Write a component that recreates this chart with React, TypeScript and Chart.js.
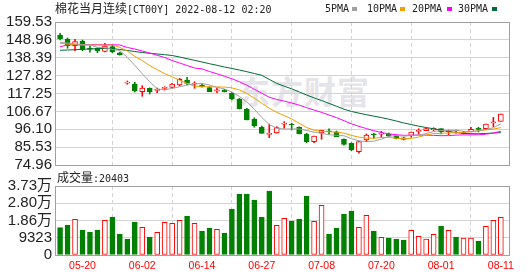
import React, { useEffect, useRef } from 'react';
import { Chart, registerables } from 'chart.js';

Chart.register(...registerables);

// ---------------- data ----------------
const tickIdx = [3, 11, 19, 27, 35, 43, 51, 59];
const dateLabels = ['05-20', '06-02', '06-14', '06-27', '07-08', '07-20', '08-01', '08-11'];

const priceTicks = [74.96, 85.53, 96.1, 106.67, 117.25, 127.82, 138.39, 148.96, 159.53];
const priceLabels = ['74.96', '85.53', '96.10', '106.67', '117.25', '127.82', '138.39', '148.96', '159.53'];

const volTicks = [0, 9323, 18646, 27969, 37292];
const volLabels = ['0', '9323', '1.86万', '2.80万', '3.73万'];

const opens = [
  151.66, 149.48, 145.51, 148.29, 143.6, 143.98, 142.2, 144.92, 141.37, 123.4,
  122.86, 118.31, 120.32, 119.1, 120.3, 120.91, 122.27, 125.23, 122.8, 122.27,
  120.68, 118.85, 119.31, 117.36, 113.99, 108.08, 101.99, 97.26, 93.05, 93.88,
  99.15, 98.66, 97.26, 93.29, 88.74, 93.88, 94.7, 94.65, 90.16, 87.79,
  82.83, 89.74, 92.75, 93.25, 93.29, 92.29, 90.16, 92.52, 94.85, 95.24,
  95.66, 96.43, 94.45, 95.05, 94.48, 94.48, 96.1, 96.43, 99.95, 100.8,
];
const highs = [
  152.85, 150.07, 149.3, 148.88, 145.34, 144.33, 146.93, 145.93, 141.79, 124.64,
  123.87, 121.86, 120.6, 120.5, 121.27, 123.28, 126.23, 126.83, 124.22, 122.86,
  121.27, 120.32, 119.73, 117.95, 114.41, 108.5, 102.93, 98.02, 99.21, 97.61,
  100.57, 99.62, 97.61, 93.71, 92.11, 95.48, 96.43, 95.07, 90.51, 88.15,
  89.15, 93.29, 93.71, 94.89, 93.88, 92.7, 91.34, 94.48, 96.43, 96.84,
  97.02, 96.43, 95.66, 95.66, 94.89, 97.26, 97.26, 99.21, 103.17, 105.12,
];
const lows = [
  148.88, 143.98, 142.38, 142.56, 141.61, 141.37, 141.79, 141.37, 139.84, 122.69,
  118.13, 115.59, 116.95, 117.72, 119.31, 120.32, 121.68, 122.27, 120.32, 120.91,
  118.31, 117.72, 118.13, 113.4, 108.08, 101.57, 97.26, 93.71, 91.1, 93.71,
  96.66, 95.66, 93.29, 88.15, 88.15, 90.16, 93.12, 91.7, 86.61, 83.42,
  81.88, 88.74, 90.75, 91.34, 91.7, 90.34, 89.74, 91.34, 93.29, 95.24,
  95.24, 93.29, 92.88, 93.71, 93.29, 94.48, 94.48, 96.07, 97.61, 100.8,
];
const closes = [
  149.65, 145.51, 147.88, 143.38, 143.5, 142.38, 145.34, 141.79, 140.19, 123.45,
  118.72, 120.5, 118.31, 119.14, 120.32, 122.86, 125.64, 123.28, 122.86, 121.27,
  118.31, 118.9, 118.31, 113.99, 108.08, 101.57, 98.02, 93.71, 93.12, 97.02,
  99.21, 98.62, 93.29, 88.74, 92.11, 95.48, 94.65, 91.7, 87.2, 83.83,
  88.74, 92.7, 92.7, 93.29, 92.29, 90.75, 91.1, 94.48, 94.89, 96.43,
  96.66, 94.48, 94.48, 95.07, 93.71, 96.07, 96.07, 99.21, 99.98, 105.12,
];

const ma5 = [
  147.5, 147.1, 146.6, 146.2, 145.98, 144.53, 144.5, 143.28, 142.64, 138.63,
  133.9, 128.93, 124.24, 120.03, 119.4, 120.23, 121.25, 122.25, 122.99, 123.18,
  122.27, 120.92, 119.93, 118.16, 115.52, 112.17, 107.99, 103.07, 98.9, 96.69,
  96.22, 96.34, 96.25, 95.38, 94.39, 93.65, 92.85, 92.54, 92.23, 90.57,
  89.22, 88.83, 89.03, 90.25, 91.94, 92.35, 92.03, 92.38, 92.7, 93.53,
  94.71, 95.39, 95.39, 95.42, 94.88, 94.76, 95.08, 96.03, 97.01, 99.29,
];
const ma10 = [
  146.9, 146.5, 146.2, 145.9, 145.9, 145.9, 145.9, 145.9, 144.5, 142.31,
  139.22, 136.72, 133.76, 131.34, 129.02, 127.07, 125.09, 123.25, 121.51, 121.29,
  121.25, 121.09, 121.09, 120.58, 119.35, 117.22, 114.46, 111.5, 108.53, 106.11,
  104.2, 102.17, 99.66, 97.14, 95.54, 94.94, 94.6, 94.4, 93.81, 92.48,
  91.44, 90.84, 90.79, 91.24, 91.26, 90.79, 90.43, 90.71, 91.48, 92.74,
  93.53, 93.71, 93.89, 94.06, 94.21, 94.74, 95.24, 95.71, 96.22, 97.09,
];
const ma20 = [
  144.92, 145.93, 146.1, 146.1, 146.1, 146.1, 146.1, 146.1, 145.93, 144.45,
  143.56, 142.38, 141.2, 139.84, 138.53, 136.76, 135.28, 133.8, 132.33, 131.8,
  130.24, 128.91, 127.43, 125.96, 124.19, 122.15, 119.78, 117.38, 115.02, 113.7,
  112.73, 111.63, 110.38, 108.86, 107.45, 106.08, 104.53, 102.95, 101.17, 99.3,
  97.82, 96.51, 95.23, 94.19, 93.4, 92.87, 92.52, 92.56, 92.65, 92.61,
  92.49, 92.28, 92.34, 92.65, 92.74, 92.77, 92.84, 93.21, 93.85, 94.92,
];
const ma30 = [
  142.79, 142.97, 143.15, 143.38, 143.56, 143.74, 143.98, 143.86, 143.27, 142.68,
  142.08, 141.49, 141.02, 140.6, 140.19, 139.72, 138.83, 137.83, 136.88, 135.87,
  134.86, 133.92, 132.92, 132.03, 131.14, 130.14, 129.07, 128.01, 125.58, 123.24,
  121.56, 119.99, 118.17, 116.35, 114.64, 113.08, 111.38, 109.72, 107.95, 106.63,
  105.63, 104.7, 103.85, 102.99, 102.05, 100.98, 99.83, 98.87, 97.94, 97.11,
  96.39, 95.57, 94.78, 94.15, 93.67, 93.49, 93.42, 93.61, 93.84, 94.1,
];

const volumes = [
  14772, 16215, 19279, 13513, 12432, 13513, 18739, 20539, 11351, 8648,
  17837, 14955, 9729, 12253, 17658, 17118, 18739, 21080, 17118, 12972,
  14594, 13874, 11891, 24863, 32971, 32971, 29728, 20539, 34592, 16037,
  19820, 18377, 19458, 31890, 18199, 26847, 11351, 14594, 22161, 23782,
  14955, 21442, 12972, 9551, 9189, 8648, 8108, 13334, 10091, 8648,
  11172, 15675, 13334, 9729, 9189, 9189, 7567, 15496, 18739, 20403,
];
// r = rising (hollow red), g = falling (solid green)
const volColor = [
  'g', 'g', 'r', 'g', 'g', 'g', 'r', 'g', 'g', 'g',
  'g', 'r', 'g', 'r', 'r', 'r', 'r', 'g', 'r', 'g',
  'g', 'r', 'g', 'g', 'g', 'g', 'g', 'g', 'g', 'r',
  'r', 'g', 'g', 'g', 'r', 'r', 'g', 'g', 'g', 'g',
  'r', 'r', 'g', 'r', 'g', 'g', 'g', 'r', 'r', 'r',
  'r', 'g', 'r', 'g', 'r', 'r', 'g', 'r', 'r', 'r',
];

// ---------------- styles ----------------
const RED = '#ff0000';
const GREEN = '#008000';
const C_MA5 = '#a0a0a0';
const C_MA10 = '#f0a000';
const C_MA20 = '#ff00ff';
const C_MA30 = '#006b35';
const GRID = '#d4d4d4';
const FRAME = '#a0a0a0';
const AXIS_FONT = "'Liberation Sans Narrow', 'Liberation Sans', 'Noto Sans CJK SC', sans-serif";
const X_MIN = -0.68;
const X_MAX = 60.09;

const framePlugin = {
  id: 'frame',
  afterDraw(chart: any) {
    const { ctx, chartArea: a } = chart;
    ctx.save();
    ctx.strokeStyle = FRAME;
    ctx.lineWidth = 1;
    ctx.strokeRect(Math.round(a.left) + 0.5, Math.round(a.top) + 0.5, Math.round(a.right - a.left), Math.round(a.bottom - a.top));
    ctx.restore();
  },
};

function xScale(showLabels: boolean) {
  return {
    type: 'linear' as const,
    min: X_MIN,
    max: X_MAX,
    offset: false,
    afterBuildTicks: (s: any) => {
      s.ticks = tickIdx.map((v) => ({ value: v }));
    },
    afterFit: (s: any) => {
      s.height = showLabels ? 21 : 0;
    },
    ticks: {
      display: showLabels,
      autoSkip: false,
      maxRotation: 0,
      padding: 5,
      color: RED,
      font: { family: "'Liberation Sans', sans-serif", size: 10.5 },
      callback: (_v: any, i: number) => dateLabels[i],
    },
    grid: { color: GRID, drawTicks: false, lineWidth: 1 },
    border: { display: false, dash: [4, 3] },
  };
}

function yScale(min: number, max: number, ticks: number[], labels: string[]) {
  return {
    type: 'linear' as const,
    min,
    max,
    afterBuildTicks: (s: any) => {
      s.ticks = ticks.map((v) => ({ value: v }));
    },
    afterFit: (s: any) => {
      s.width = 55;
    },
    ticks: {
      autoSkip: false,
      padding: 3,
      color: '#222',
      font: { family: AXIS_FONT, size: 15 },
      callback: (_v: any, i: number) => labels[i],
    },
    grid: { color: GRID, drawTicks: false, lineWidth: 1 },
    border: { display: false },
  };
}

const idx = closes.map((_, i) => i);
const isUp = (i: number) => closes[i] >= opens[i];

export default function App() {
  const topRef = useRef<HTMLCanvasElement>(null);
  const botRef = useRef<HTMLCanvasElement>(null);

  useEffect(() => {
    document.body.style.margin = '0';
    const maLine = (arr: number[], color: string) => ({
      type: 'line' as const,
      data: arr.map((v, i) => ({ x: i, y: v })),
      borderColor: color,
      borderWidth: 1,
      pointRadius: 0,
      tension: 0,
      order: 0,
    });

    const top = new Chart(topRef.current!, {
      type: 'bar',
      data: {
        datasets: [
          maLine(ma5, C_MA5),
          maLine(ma10, C_MA10),
          maLine(ma20, C_MA20),
          maLine(ma30, C_MA30),
          {
            type: 'bar',
            data: idx.map((i) => ({ x: i, y: [opens[i], closes[i]] })),
            backgroundColor: idx.map((i) => (isUp(i) ? '#ffffff' : GREEN)),
            borderColor: idx.map((i) => (isUp(i) ? RED : GREEN)),
            borderWidth: 1,
            borderSkipped: false,
            barThickness: 5,
            minBarLength: 1,
            grouped: false,
            order: 1,
          } as any,
          {
            type: 'bar',
            data: idx.map((i) => ({ x: i, y: [lows[i], highs[i]] })),
            backgroundColor: idx.map((i) => (isUp(i) ? RED : GREEN)),
            borderWidth: 0,
            barThickness: 1,
            inflateAmount: 0.3,
            grouped: false,
            order: 2,
          } as any,
        ],
      },
      options: {
        responsive: false,
        animation: false,
        devicePixelRatio: 1,
        layout: { padding: { left: 0, right: 21, top: 22, bottom: 111 } },
        plugins: { legend: { display: false }, tooltip: { enabled: false } },
        scales: {
          x: xScale(false) as any,
          y: yScale(priceTicks[0], priceTicks[priceTicks.length - 1], priceTicks, priceLabels) as any,
        },
      },
      plugins: [framePlugin],
    });

    const bot = new Chart(botRef.current!, {
      type: 'bar',
      data: {
        datasets: [
          {
            type: 'bar',
            data: idx.map((i) => ({ x: i, y: volumes[i] })),
            backgroundColor: idx.map((i) => (volColor[i] === 'r' ? '#ffffff' : GREEN)),
            borderColor: idx.map((i) => (volColor[i] === 'r' ? RED : GREEN)),
            borderWidth: 1,
            borderSkipped: false,
            barThickness: 5,
            grouped: false,
          } as any,
        ],
      },
      options: {
        responsive: false,
        animation: false,
        devicePixelRatio: 1,
        layout: { padding: { left: 0, right: 21, top: 186, bottom: 0 } },
        plugins: { legend: { display: false }, tooltip: { enabled: false } },
        scales: {
          x: xScale(true) as any,
          y: yScale(volTicks[0], volTicks[volTicks.length - 1], volTicks, volLabels) as any,
        },
      },
      plugins: [framePlugin],
    });

    return () => {
      top.destroy();
      bot.destroy();
    };
  }, []);

  const cjk: React.CSSProperties = { fontFamily: "'Noto Sans CJK SC', sans-serif", fontSize: 12 };
  const mono: React.CSSProperties = { fontFamily: "'DejaVu Sans Mono', monospace", fontSize: 10 };
  const abs = (left: number, top: number): React.CSSProperties => ({ position: 'absolute', left, top, whiteSpace: 'nowrap', lineHeight: '12px', color: '#222' });
  const marker = (left: number, color: string): React.CSSProperties => ({ position: 'absolute', left, top: 7, width: 5, height: 4, background: color });

  return (
    <div style={{ position: 'fixed', left: 0, top: 0, width: 530, height: 276, background: '#fff', overflow: 'hidden' }}>
      <div style={{ position: 'absolute', left: 238, top: 74, fontFamily: "'Noto Sans CJK SC', sans-serif", fontWeight: 700, fontSize: 32, lineHeight: '32px', color: '#e4e4e9', letterSpacing: 1 }}>
        东方财富
      </div>
      <canvas ref={topRef} width={530} height={276} style={{ position: 'absolute', left: 0, top: 0 }} />
      <canvas ref={botRef} width={530} height={276} style={{ position: 'absolute', left: 0, top: 0 }} />
      <div style={abs(55, 2)}>
        <span style={cjk}>棉花当月连续</span>
        <span style={mono}>[CT00Y] 2022-08-12 02:20</span>
      </div>
      <div style={{ ...abs(325, 3), ...mono }}>5PMA</div>
      <div style={marker(352, C_MA5)} />
      <div style={{ ...abs(367, 3), ...mono }}>10PMA</div>
      <div style={marker(400, C_MA10)} />
      <div style={{ ...abs(412, 3), ...mono }}>20PMA</div>
      <div style={marker(447, C_MA20)} />
      <div style={{ ...abs(458, 3), ...mono }}>30PMA</div>
      <div style={marker(492, C_MA30)} />
      <div style={abs(57, 171)}>
        <span style={cjk}>成交量</span>
        <span style={mono}>:20403</span>
      </div>
    </div>
  );
}
